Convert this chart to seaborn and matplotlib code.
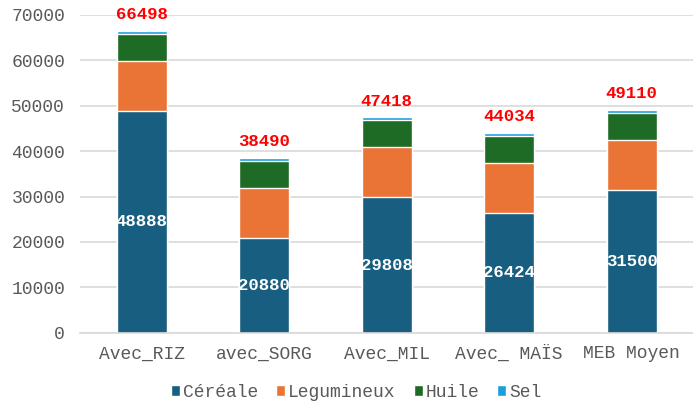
import matplotlib
matplotlib.use("Agg")
import matplotlib.pyplot as plt
from matplotlib.patches import Patch
import seaborn as sns
import pandas as pd
import numpy as np

# data
categories = ["Avec_RIZ", "avec_SORG", "Avec_MIL", "Avec_ MAÏS", "MEB Moyen"]
cereale = [48888, 20880, 29808, 26424, 31500]
legumineux = [11000, 11000, 11000, 11000, 11000]
huile = [6000, 6000, 6000, 6000, 6000]
sel = [610, 610, 610, 610, 610]

series_names = ["Céréale", "Legumineux", "Huile", "Sel"]
colors = ["#175e80", "#e97435", "#1e6b26", "#1b9fd8"]

sns.set_style("white")
plt.rcParams["font.family"] = ["Liberation Mono", "DejaVu Sans Mono"]

df = pd.DataFrame({"cat": categories, "Céréale": cereale,
                   "Legumineux": legumineux, "Huile": huile, "Sel": sel})
cum = df[series_names].cumsum(axis=1)
totals = cum["Sel"]

fig = plt.figure(figsize=(6.93, 4.01), dpi=100)
ax = fig.add_axes([0.116, 0.17, 0.884, 0.793])

# stacked bars: draw cumulative heights from top layer down
for name, col in reversed(list(zip(series_names, colors))):
    sns.barplot(x=df["cat"], y=cum[name], color=col, width=0.41,
                saturation=1, ax=ax, zorder=2)

ax.set_ylim(0, 70000)
ax.set_yticks(np.arange(0, 70001, 10000))
ax.yaxis.grid(True, color="#d9d9d9", linewidth=1.2, zorder=0)
ax.set_axisbelow(True)
ax.set_xlabel("")
ax.set_ylabel("")
for s in ["top", "right", "left"]:
    ax.spines[s].set_visible(False)
ax.spines["bottom"].set_color("#d9d9d9")
ax.spines["bottom"].set_linewidth(1.2)
ax.tick_params(axis="both", length=0, labelsize=13, colors="#595959")
ax.tick_params(axis="x", pad=9)
ax.tick_params(axis="y", pad=11)

for i, (c, t) in enumerate(zip(cereale, totals)):
    ax.text(i, c / 2, str(c), ha="center", va="center", color="white",
            fontsize=12.5, fontweight="bold", zorder=3)
    ax.text(i, t + 1900, str(t), ha="center", va="bottom", color="red",
            fontsize=12.5, fontweight="bold", zorder=3)

handles = [Patch(facecolor=c, label=n) for n, c in zip(series_names, colors)]
leg = fig.legend(handles=handles, loc="lower center", ncol=4, frameon=False,
                 fontsize=13, handlelength=0.5, handleheight=0.5,
                 handletextpad=0.15, columnspacing=1.0,
                 bbox_to_anchor=(0.514, -0.04))
for txt in leg.get_texts():
    txt.set_color("#595959")

fig.savefig("out.png", dpi=100)
